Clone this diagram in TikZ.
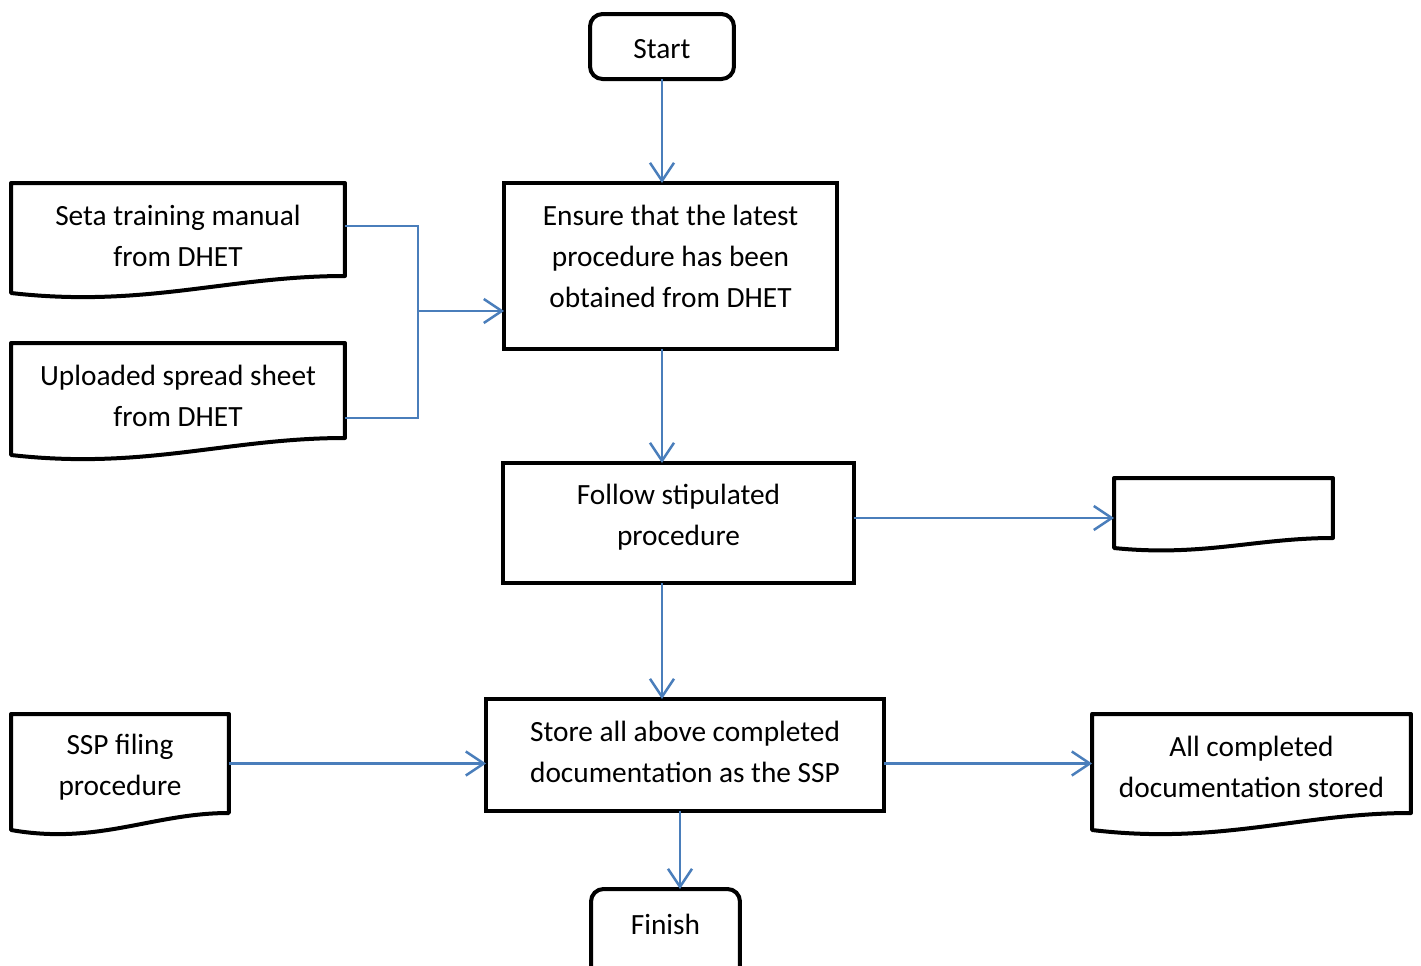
\documentclass[tikz,border=0pt]{standalone}
\usepackage{fontspec}
\setmainfont{Carlito}
\usetikzlibrary{arrows.meta,calc,positioning}
\definecolor{flowblue}{RGB}{74,126,187}
% document symbol drawn round a node: #1 node name, #2 drop of the left corner
\newcommand{\docoutline}[2]{%
  \draw[docline] (#1.south east) -- (#1.north east) -- (#1.north west)
    -- ($(#1.south west)+(0,#2)$)
    .. controls ($(#1.south west)!0.4!(#1.south east)+(0,1.9*#2)$)
    and ($(#1.south west)!0.65!(#1.south east)$) .. (#1.south east) -- cycle;}
\begin{document}
\begin{tikzpicture}[x=0.02cm, y=-0.02cm,
    txt/.style={font=\fontsize{16.7}{23.3}\selectfont, align=center, inner sep=0pt, outer sep=0pt},
    terminal/.style={draw, line width=0.08cm, rounded corners=0.25cm, inner sep=0pt, outer sep=0pt},
    stepbox/.style={draw, line width=0.08cm, inner sep=0pt, outer sep=0pt},
    doc/.style={inner sep=0pt, outer sep=0pt},
    docline/.style={line width=0.08cm, line join=round},
    flow/.style={draw=flowblue, line width=0.05cm, -{Straight Barb[length=0.36cm, width=0.48cm]}},
    link/.style={draw=flowblue, line width=0.05cm}]
    \useasboundingbox (0,0) rectangle (1421,965);

    % Main column
    \node[terminal, minimum width=2.88cm, minimum height=1.30cm] (start) at (662,46.5) {};
    \node[stepbox, minimum width=6.66cm, minimum height=3.32cm] (ensure) at (670.5,266) {};
    \node[stepbox, minimum width=7.02cm, minimum height=2.40cm] (follow) at (678.5,523) {};
    \node[stepbox, minimum width=7.96cm, minimum height=2.24cm] (store) at (685,755) {};
    \node[terminal, minimum width=2.98cm, minimum height=1.80cm] (finish) at (665.5,934) {};
    \node[txt] (starttext) at (662,49.5) {Start};
    \node[txt] (ensuretext) at (670.5,256) {Ensure that the latest\\procedure has been\\obtained from DHET};
    \node[txt] (followtext) at (678.5,517.5) {Follow stipulated\\procedure};
    \node[txt] (storetext) at (685,752) {Store all above completed\\documentation as the SSP};
    \node[txt] (finishtext) at (665.5,924) {Finish};

    % Documents
    \node[doc, minimum width=6.68cm, minimum height=1.86cm] (seta) at (178,229.5) {};
    \node[doc, minimum width=6.68cm, minimum height=1.90cm] (sheet) at (178,390.5) {};
    \node[doc, minimum width=4.38cm, minimum height=1.20cm] (blank) at (1223.5,508) {};
    \node[doc, minimum width=4.36cm, minimum height=1.98cm] (filing) at (120,763.5) {};
    \node[doc, minimum width=6.38cm, minimum height=1.98cm] (stored) at (1251.5,763.5) {};
    \docoutline{seta}{17}
    \docoutline{sheet}{17}
    \docoutline{blank}{10}
    \docoutline{filing}{17}
    \docoutline{stored}{17}
    \node[txt] (setatext) at (178,235.5) {Seta training manual\\from DHET};
    \node[txt] (sheettext) at (178,395.5) {Uploaded spread sheet\\from DHET};
    \node[txt] (filingtext) at (120,767) {SSP filing\\procedure};
    \node[txt] (storedtext) at (1251.5,767) {All completed\\documentation stored};

    % Connectors
    \draw[flow] (start) -- (start |- ensure.north);
    \draw[flow] (ensure.south -| start) -- (follow.north -| start);
    \draw[flow] (follow.south -| start) -- (store.north -| start);
    \draw[flow] ([xshift=-0.1cm]store.south) -- ([xshift=-0.1cm]store.south |- finish.north);

    \coordinate (merge) at (418,311);
    \draw[link] ([yshift=0.07cm]seta.east) -| (merge);
    \draw[link] ([yshift=0.4cm]sheet.south east) -| (merge);
    \draw[flow] (merge) -- (merge -| ensure.west);

    \draw[flow] ([yshift=0.1cm]follow.east) -- ([yshift=0.1cm]follow.east -| blank.west);
    \draw[flow] (filing.east) -- (filing.east -| store.west);
    \draw[flow] (filing.east -| store.east) -- (filing.east -| stored.west);
\end{tikzpicture}
\end{document}
